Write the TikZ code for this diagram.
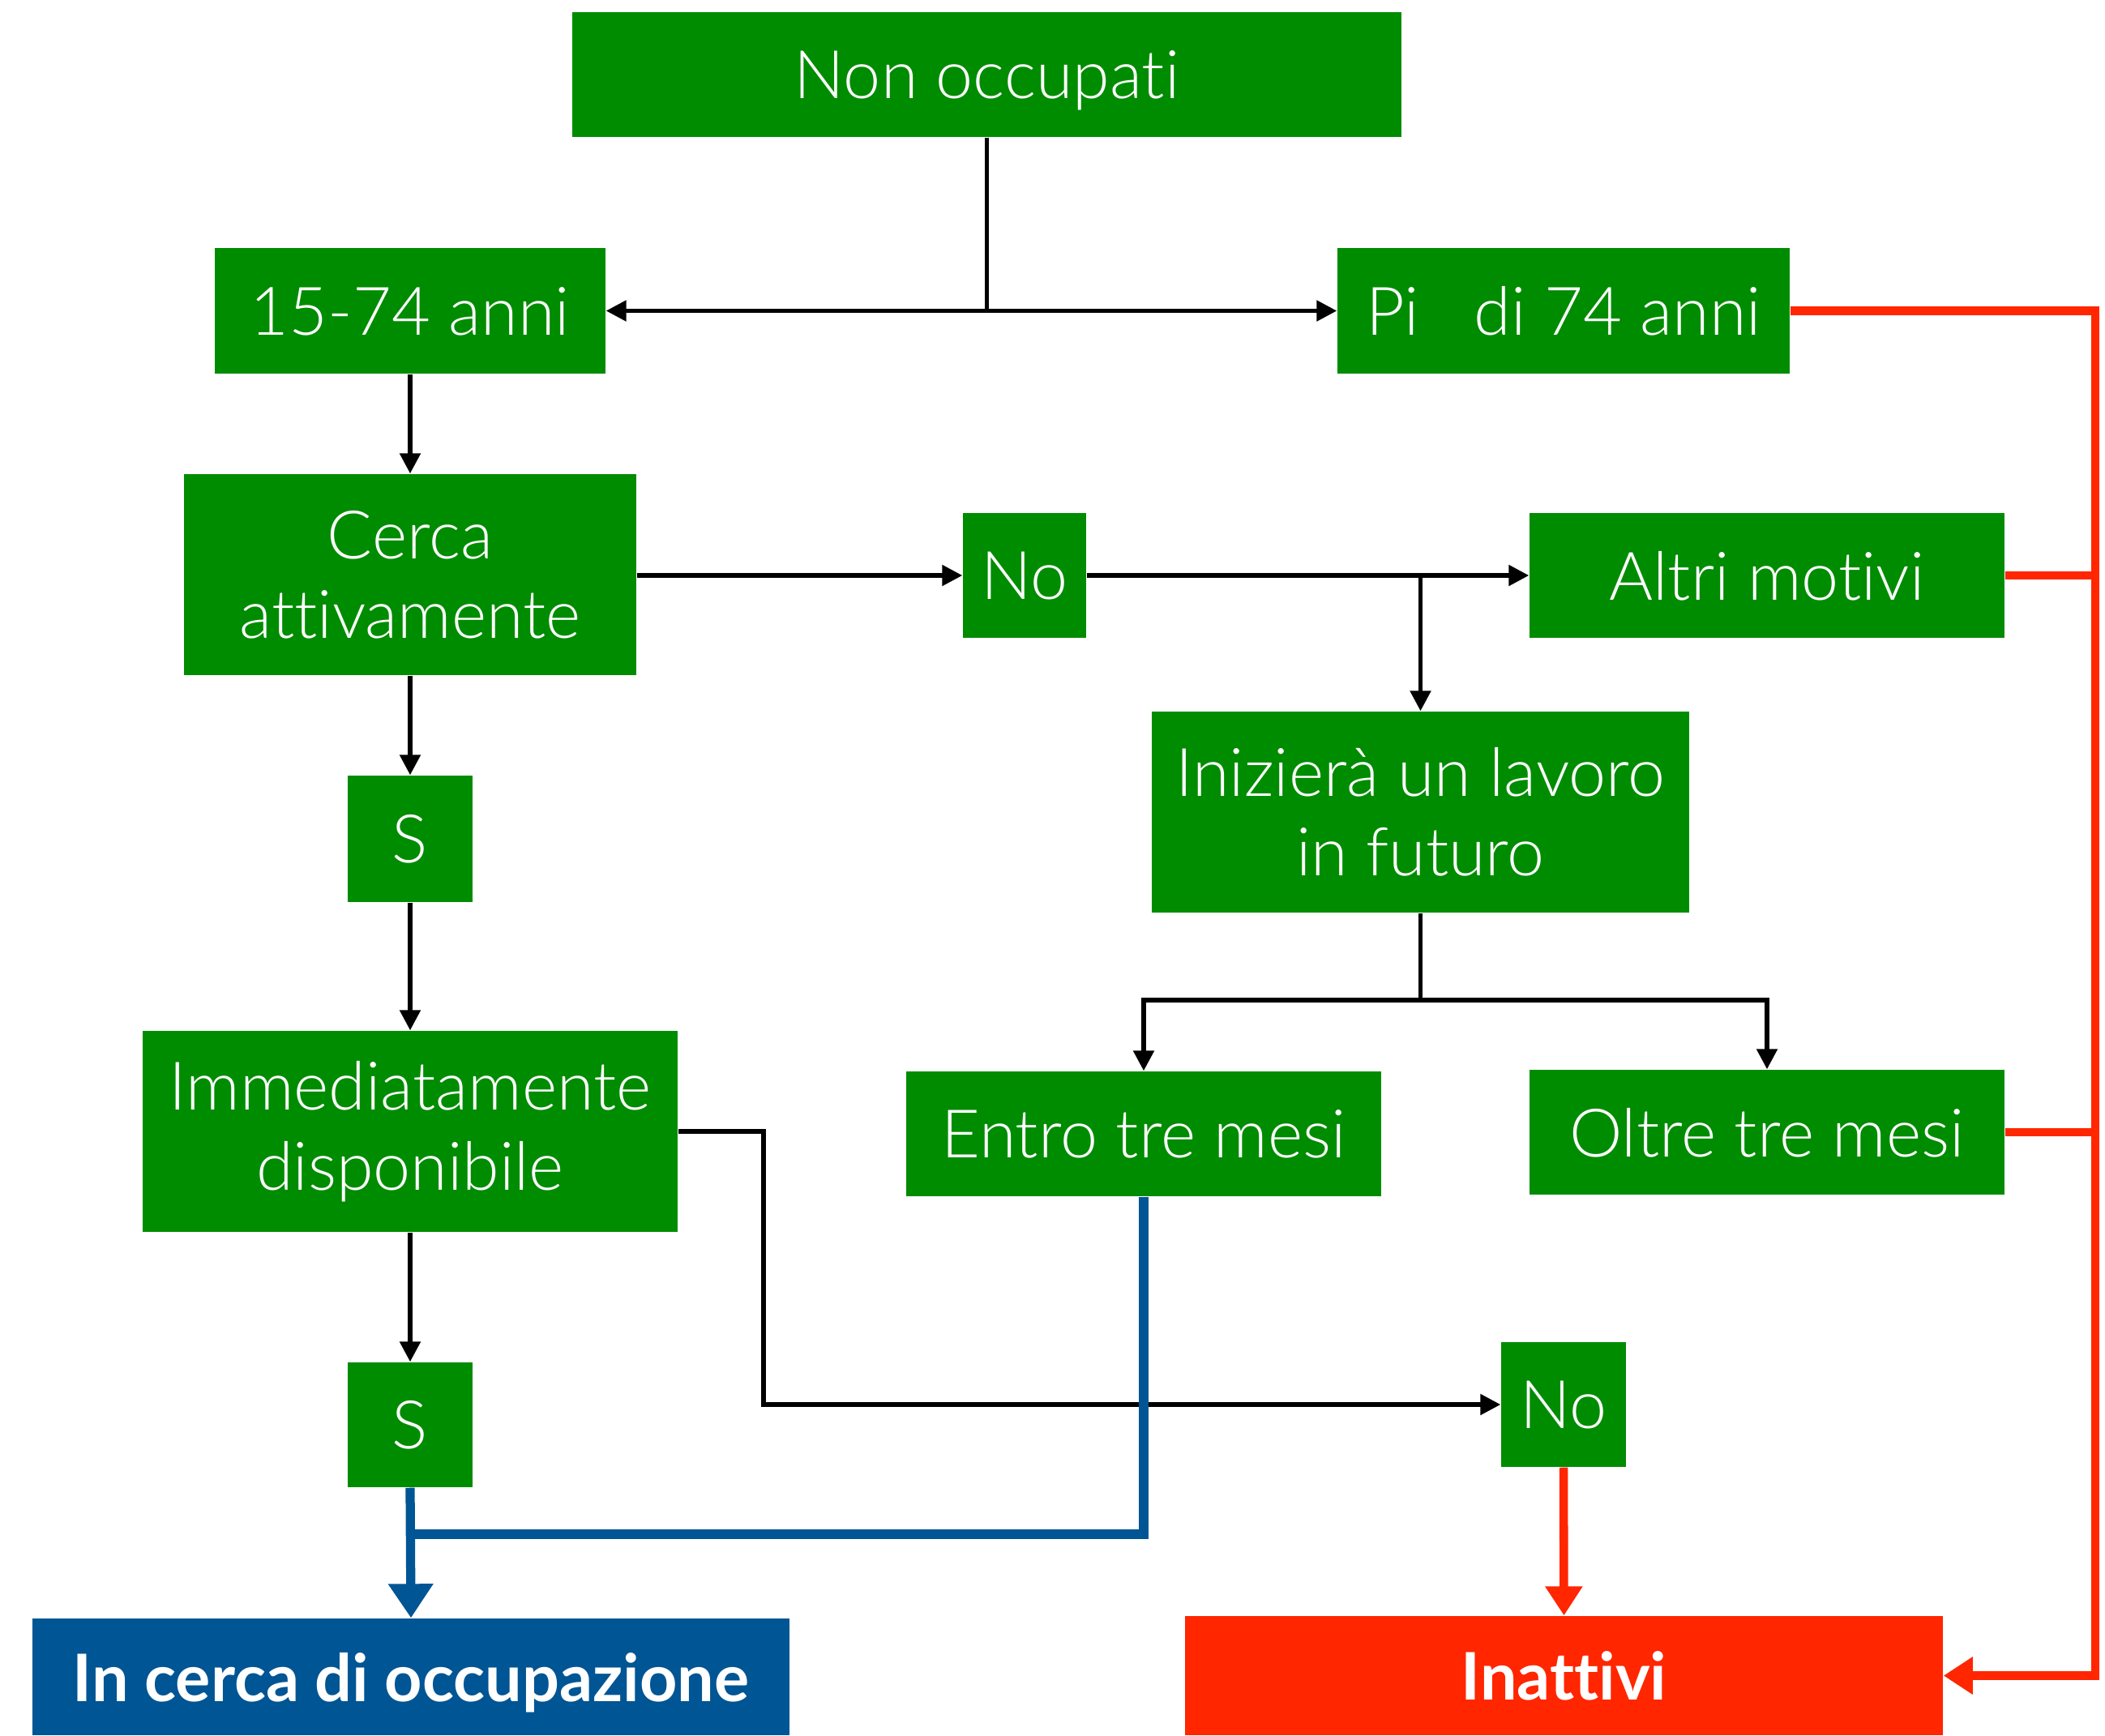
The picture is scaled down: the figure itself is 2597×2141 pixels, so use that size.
\documentclass[tikz,border=0pt]{standalone}
\usepackage{fontspec}
\setmainfont{Lato Light}[Ligatures=NoCommon]
\newfontfamily\boldlato{Lato Bold}[Ligatures=NoCommon]
\usetikzlibrary{arrows.meta}
\definecolor{gr}{RGB}{0,140,0}
\definecolor{bl}{RGB}{0,85,148}
\definecolor{rd}{RGB}{255,38,0}
\tikzset{
  box/.style={fill=gr, text=white, inner sep=0pt, align=center, font=\fontsize{23.5}{28}\selectfont},
  one/.style={text depth=0pt},
  fin/.style={inner sep=0pt, text=white, text depth=0pt, font=\boldlato\fontsize{23}{28}\selectfont},
  blk/.style={line width=1.5pt, -{Triangle[length=2.5mm,width=2.5mm]}},
  blkline/.style={line width=1.5pt},
  redline/.style={rd, line width=3pt},
  bluline/.style={bl, line width=3.2pt},
}
\begin{document}
\begin{tikzpicture}[x=0.01cm, y=-0.01cm]
\useasboundingbox (0,0) rectangle (2597,2141);
\node[box, one, minimum width=1023*0.01cm, minimum height=154*0.01cm] (nonocc) at (1217.5,92) {Non occupati};
\node[box, one, minimum width=482*0.01cm, minimum height=155*0.01cm] (anni) at (506,383.5) {15-74 anni};
\node[box, one, minimum width=558*0.01cm, minimum height=155*0.01cm] (piu) at (1929,383.5) {Pi\phantom{ù} di 74 anni};
\node[box, minimum width=558*0.01cm, minimum height=248*0.01cm] (cerca) at (506,709) {Cerca\\attivamente};
\node[box, one, minimum width=152*0.01cm, minimum height=154*0.01cm] (no1) at (1264,710) {No};
\node[box, one, minimum width=586*0.01cm, minimum height=154*0.01cm] (altri) at (2180,710) {Altri motivi};
\node[box, minimum width=663*0.01cm, minimum height=248*0.01cm] (inizia) at (1752.5,1002) {Inizierà un lavoro\\in futuro};
\node[box, one, minimum width=154*0.01cm, minimum height=156*0.01cm] (s1) at (506,1035) {S};
\node[box, minimum width=660*0.01cm, minimum height=248*0.01cm] (immed) at (506,1396) {Immediatamente\\disponibile};
\node[box, one, minimum width=586*0.01cm, minimum height=154*0.01cm] (entro) at (1411,1399) {Entro tre mesi};
\node[box, one, minimum width=586*0.01cm, minimum height=154*0.01cm] (oltre) at (2180,1397) {Oltre tre mesi};
\node[box, one, minimum width=154*0.01cm, minimum height=154*0.01cm] (s2) at (506,1758) {S};
\node[box, one, minimum width=154*0.01cm, minimum height=154*0.01cm] (no2) at (1929,1733) {No};
\node[fin, fill=bl, minimum width=934*0.01cm, minimum height=144*0.01cm] (incerca) at (507,2069) {In cerca di occupazione};
\node[fin, fill=rd, minimum width=935*0.01cm, minimum height=147*0.01cm] (inattivi) at (1929.5,2067.5) {Inattivi};
% black connectors
\coordinate (j1) at (nonocc.south |- anni.east);
\draw[blkline] (nonocc.south) -- (j1);
\draw[blk] (j1) -- (anni.east);
\draw[blk] (j1) -- (piu.west);
\draw[blk] (anni.south) -- (cerca.north);
\draw[blk] (cerca.east |- no1.west) -- (no1.west);
\draw[blk] (no1.east) -- (altri.west);
\coordinate (j2) at (inizia.north |- no1.east);
\draw[blk] (j2) -- (inizia.north);
\draw[blk] (cerca.south) -- (s1.north);
\draw[blk] (s1.south) -- (immed.north);
\coordinate (j3) at (1752.5,1234);
\draw[blkline] (inizia.south) -- (j3);
\draw[blk] (j3) -| (entro.north);
\draw[blk] (j3) -| (oltre.north);
\draw[blk] (immed.south) -- (s2.north);
\coordinate (k1) at (942,1396);
\draw[blk] (immed.east) -- (k1) -- (k1 |- no2.west) -- (no2.west);
% blue connectors
\coordinate (b1) at (1411,1893);
\draw[bluline] (entro.south) -- (b1) -- (s2.south |- b1);
\draw[bluline, -{Triangle[length=4.2mm,width=5.3mm]}] (s2.south) -- (incerca.north);
% red connectors
\draw[redline, -{Triangle[length=3.6mm,width=4.4mm]}] (no2.south) -- (inattivi.north);
\coordinate (r1) at (2585,383.5);
\coordinate (r2) at (2585,2067.5);
\draw[redline, -{Triangle[length=3.6mm,width=4.4mm]}] (piu.east) -- (r1) -- (r2) -- (inattivi.east);
\draw[redline] (altri.east) -- (altri.east -| r1);
\draw[redline] (oltre.east) -- (oltre.east -| r1);
\end{tikzpicture}
\end{document}
